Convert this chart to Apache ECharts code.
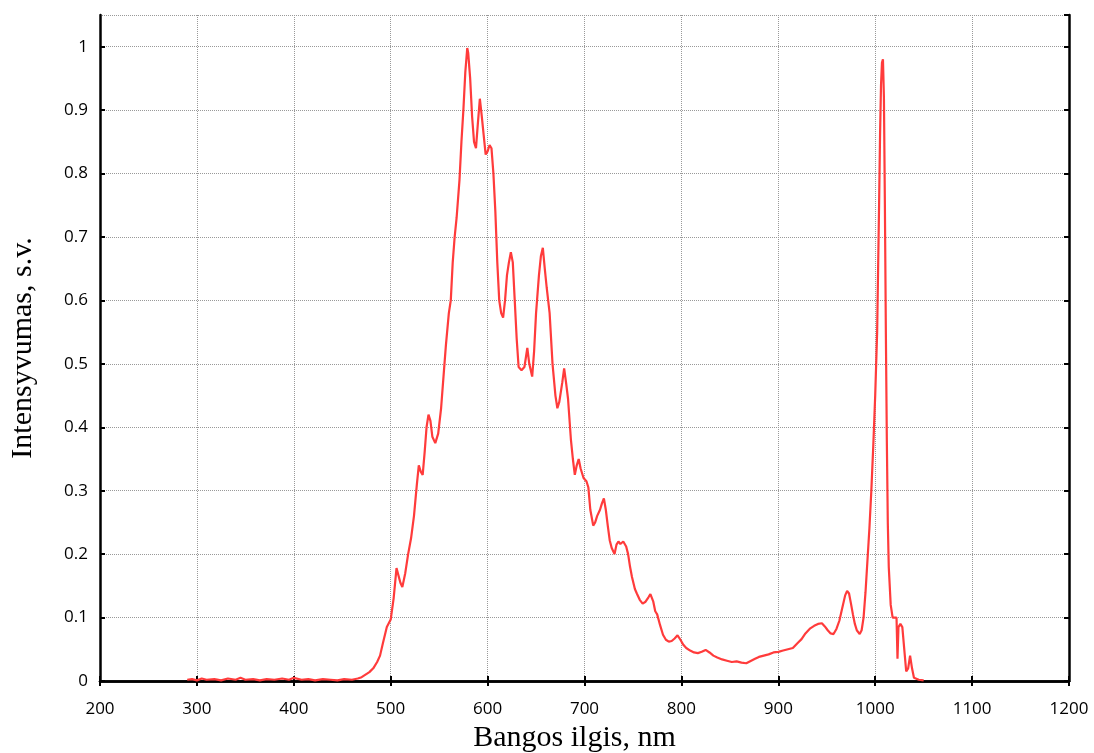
<!DOCTYPE html>
<html>
<head>
<meta charset="utf-8">
<script src="https://cdn.jsdelivr.net/npm/echarts@6/dist/echarts.min.js"></script>
<style>
  html, body { margin: 0; padding: 0; background: #fff; }
  #chart { width: 1094px; height: 753px; }
</style>
</head>
<body>
<div id="chart"></div>
<script>
// wavelength, nm
var wavelengths = [
    290, 295, 300, 305, 310, 318, 325, 332, 340, 345, 350, 358, 365, 372, 380, 388, 395, 400,
    408, 415, 422, 430, 438, 445, 452, 460, 466, 470, 474, 478, 482, 486, 489, 492, 496, 500,
    503, 506, 508, 510, 512, 515, 518, 521, 524, 527, 529, 531, 533, 535, 537, 539, 541, 543,
    546, 549, 552, 555, 557, 560, 562, 564, 566, 568, 571, 573, 575, 577, 579, 580, 582, 584,
    586, 588, 590, 592, 594, 596, 598, 600, 602, 604, 606, 608, 610, 612, 614, 616, 618, 620,
    622, 624, 626, 628, 630, 632, 635, 638, 641, 643, 646, 648, 650, 653, 655, 657, 659, 661,
    664, 667, 670, 672, 674, 677, 679, 681, 683, 686, 688, 690, 692, 694, 696, 699, 702, 704,
    706, 709, 711, 713, 716, 718, 720, 722, 724, 726, 728, 731, 733, 735, 737, 740, 743, 745,
    747, 749, 752, 754, 757, 760, 763, 766, 768, 771, 773, 775, 778, 781, 784, 787, 790, 793,
    796, 799, 802, 805, 809, 813, 817, 821, 825, 829, 833, 837, 842, 847, 852, 857, 862, 867,
    872, 876, 880, 885, 890, 895, 900, 905, 910, 915, 920, 924, 928, 933, 937, 941, 945, 948,
    951, 954, 957, 960, 963, 966, 969, 971, 973, 975, 977, 979, 981, 984, 986, 988, 990, 992,
    994, 996, 998, 1000, 1002, 1003, 1004, 1005, 1006, 1007, 1008, 1009, 1010, 1011, 1012, 1013,
    1014, 1016, 1018, 1020, 1022, 1023, 1024, 1026, 1028, 1030, 1032, 1034, 1036, 1038, 1040,
    1045, 1050
];

// intensity, a.u.
var intensity = [
    0.002, 0.003, 0.001, 0.004, 0.002, 0.003, 0.001, 0.004, 0.002, 0.005, 0.002, 0.003, 0.001, 0.003, 0.002, 0.004, 0.002, 0.005,
    0.002, 0.003, 0.001, 0.003, 0.002, 0.001, 0.003, 0.002, 0.004, 0.006, 0.010, 0.014, 0.020, 0.030, 0.040, 0.060, 0.085, 0.097,
    0.130, 0.178, 0.175, 0.155, 0.148, 0.170, 0.200, 0.225, 0.260, 0.310, 0.340, 0.330, 0.325, 0.360, 0.400, 0.420, 0.410, 0.385,
    0.375, 0.390, 0.430, 0.490, 0.530, 0.580, 0.600, 0.660, 0.700, 0.730, 0.790, 0.850, 0.900, 0.960, 0.998, 0.990, 0.950, 0.890,
    0.850, 0.840, 0.880, 0.918, 0.890, 0.860, 0.830, 0.835, 0.845, 0.840, 0.800, 0.740, 0.660, 0.600, 0.580, 0.573, 0.600, 0.640,
    0.660, 0.676, 0.660, 0.600, 0.540, 0.495, 0.490, 0.495, 0.525, 0.500, 0.480, 0.520, 0.580, 0.640, 0.670, 0.683, 0.650, 0.620,
    0.580, 0.500, 0.450, 0.430, 0.440, 0.470, 0.493, 0.470, 0.445, 0.380, 0.350, 0.325, 0.340, 0.350, 0.335, 0.320, 0.315, 0.305,
    0.270, 0.245, 0.250, 0.260, 0.270, 0.280, 0.288, 0.270, 0.245, 0.222, 0.210, 0.200, 0.215, 0.220, 0.216, 0.220, 0.212, 0.200,
    0.180, 0.164, 0.145, 0.138, 0.128, 0.122, 0.125, 0.132, 0.137, 0.125, 0.110, 0.105, 0.088, 0.073, 0.065, 0.062, 0.063, 0.067,
    0.072, 0.065, 0.057, 0.052, 0.048, 0.045, 0.044, 0.046, 0.049, 0.045, 0.040, 0.037, 0.034, 0.032, 0.030, 0.031, 0.029, 0.028,
    0.032, 0.035, 0.038, 0.040, 0.042, 0.045, 0.046, 0.048, 0.050, 0.052, 0.060, 0.066, 0.075, 0.083, 0.087, 0.090, 0.091, 0.086,
    0.080, 0.075, 0.074, 0.082, 0.095, 0.115, 0.135, 0.142, 0.138, 0.122, 0.105, 0.090, 0.080, 0.074, 0.080, 0.100, 0.140, 0.190,
    0.240, 0.300, 0.370, 0.450, 0.550, 0.650, 0.750, 0.860, 0.940, 0.975, 0.980, 0.920, 0.750, 0.550, 0.380, 0.250,
    0.180, 0.120, 0.100, 0.098, 0.100, 0.035, 0.085, 0.090, 0.085, 0.050, 0.015, 0.020, 0.040, 0.020, 0.005,
    0.002, 0.001
];

var xTicks = [200, 1200, 100];
var yTicks = [0, 1.05, 0.1];

var points = wavelengths.map(function (w, i) { return [w, intensity[i]]; });

var labelFont = { fontFamily: 'Open Sans', fontSize: 17, color: '#000' };
var titleFont = { fontFamily: 'Liberation Serif', fontSize: 30, color: '#000' };
var frameLine = { show: true, lineStyle: { color: '#000', width: 2.5 } };
var innerTick = { show: true, inside: true, length: 5, lineStyle: { color: '#000', width: 2 } };
var dotted = { show: true, lineStyle: { color: '#999', type: 'dotted', width: 1 } };

var chart = echarts.init(document.getElementById('chart'));
chart.setOption({
    backgroundColor: '#fff',
    animation: false,
    grid: { left: 100, right: 25, top: 15, bottom: 72, outerBoundsMode: 'none', containLabel: false },
    xAxis: [{
        type: 'value', position: 'bottom',
        min: xTicks[0], max: xTicks[1], interval: xTicks[2],
        name: 'Bangos ilgis, nm', nameLocation: 'middle', nameGap: 41,
        nameTextStyle: Object.assign({ padding: [0, 20, 0, 0] }, titleFont),
        axisLine: frameLine, axisTick: innerTick, splitLine: dotted,
        axisLabel: Object.assign({
            margin: 20,
            formatter: function (v) { return String(v); }
        }, labelFont)
    }, {
        type: 'value', position: 'top',
        min: xTicks[0], max: xTicks[1], interval: xTicks[2],
        axisLine: frameLine, axisTick: innerTick,
        splitLine: { show: false }, axisLabel: { show: false }
    }],
    yAxis: [{
        type: 'value', position: 'left',
        min: yTicks[0], max: yTicks[1], interval: yTicks[2],
        name: 'Intensyvumas, s.v.', nameLocation: 'middle', nameGap: 62,
        nameTextStyle: titleFont,
        axisLine: frameLine, axisTick: innerTick, splitLine: dotted,
        axisLabel: Object.assign({ margin: 12, showMaxLabel: false }, labelFont)
    }, {
        type: 'value', position: 'right',
        min: yTicks[0], max: yTicks[1], interval: yTicks[2],
        axisLine: frameLine, axisTick: innerTick,
        splitLine: { show: false }, axisLabel: { show: false }
    }],
    series: [{
        type: 'line',
        data: points,
        showSymbol: false,
        lineStyle: { color: '#ff3b3b', width: 2.2 },
        z: 5
    }]
});
</script>
</body>
</html>
